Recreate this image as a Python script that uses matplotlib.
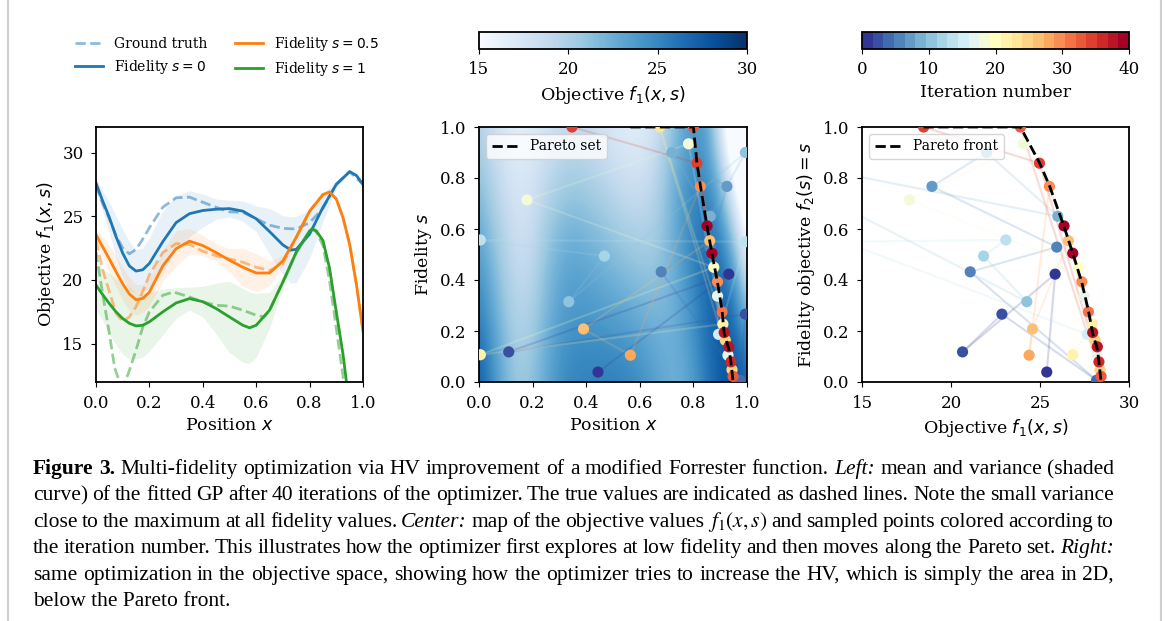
import matplotlib
matplotlib.use('Agg')
import matplotlib.pyplot as plt
import numpy as np
from matplotlib.colors import Normalize
from matplotlib.lines import Line2D
from matplotlib.collections import LineCollection
import matplotlib.cm as cm

plt.rcParams['font.family'] = 'serif'
plt.rcParams['font.serif'] = ['DejaVu Serif']
plt.rcParams['mathtext.fontset'] = 'dejavusans'
plt.rcParams['font.size'] = 12
plt.rcParams['axes.labelsize'] = 12.5
plt.rcParams['axes.linewidth'] = 1.3
plt.rcParams['xtick.major.pad'] = 5.5
plt.rcParams['ytick.major.pad'] = 5.5

# ---------------- left panel: GP mean, band half-width and ground truth ----------------
x_s0 = [0.0, 0.025, 0.05, 0.075, 0.1, 0.125, 0.15, 0.175, 0.2, 0.25, 0.3, 0.35, 0.4, 0.45,
        0.5, 0.55, 0.6, 0.65, 0.7, 0.73, 0.75, 0.8, 0.85, 0.9, 0.95, 0.975, 1.0]
mean_s0 = [27.6, 26.2, 24.9, 23.4, 22.1, 21.1, 20.7, 20.8, 21.3, 23.0, 24.5, 25.2, 25.45, 25.55,
           25.6, 25.4, 24.8, 23.8, 22.75, 22.35, 22.4, 23.6, 25.7, 27.5, 28.5, 28.2, 27.5]
band_s0 = [0.4, 0.8, 1.2, 1.6, 1.9, 1.9, 1.7, 1.7, 2.0, 2.4, 2.1, 1.8, 1.3, 0.8,
           0.65, 0.8, 1.0, 1.8, 2.3, 2.6, 2.6, 1.9, 1.1, 0.3, 0.1, 0.1, 0.1]
xt_s0 = [0.0, 0.025, 0.05, 0.075, 0.1, 0.125, 0.15, 0.175, 0.2, 0.25, 0.3, 0.35, 0.4, 0.45,
         0.5, 0.55, 0.6, 0.65, 0.7, 0.75, 0.8, 0.85, 0.9, 0.95, 1.0]
true_s0 = [27.4, 26.0, 24.8, 23.5, 22.5, 22.05, 22.4, 23.2, 24.1, 25.7, 26.45, 26.5, 26.1, 25.7,
           25.35, 25.3, 24.8, 24.3, 24.05, 24.0, 24.5, 25.6, 27.5, 28.5, 27.5]

x_s05 = [0.0, 0.025, 0.05, 0.075, 0.1, 0.125, 0.15, 0.175, 0.2, 0.25, 0.3, 0.35, 0.4, 0.45,
         0.5, 0.55, 0.6, 0.65, 0.7, 0.75, 0.8, 0.85, 0.875, 0.9, 0.925, 0.95, 0.975, 1.0]
mean_s05 = [23.55, 22.6, 21.65, 20.65, 19.7, 18.9, 18.45, 18.55, 19.05, 21.1, 22.45, 23.05, 22.7, 22.15,
            21.55, 21.0, 20.55, 20.55, 21.5, 23.35, 25.4, 26.7, 26.9, 26.35, 24.9, 22.8, 19.7, 16.0]
band_s05 = [0.5, 0.8, 1.1, 1.2, 1.3, 1.3, 1.2, 1.1, 1.1, 1.2, 1.4, 1.0, 0.8, 0.7,
            0.9, 1.5, 1.5, 1.0, 0.4, 0.2, 0.15, 0.15, 0.15, 0.15, 0.15, 0.15, 0.15, 0.15]
true_s05 = [23.1, 20.8, 19.1, 17.4, 16.75, 17.1, 17.9, 19.1, 20.4, 22.15, 22.85, 22.8, 22.25, 21.9,
            21.65, 21.4, 21.0, 20.75, 21.3, 23.35, 25.4, 26.7, 26.9, 26.35, 24.9, 22.8, 19.7, 16.0]

x_s1 = [0.0, 0.025, 0.05, 0.075, 0.1, 0.125, 0.15, 0.175, 0.2, 0.25, 0.3, 0.35, 0.4, 0.45,
        0.5, 0.55, 0.575, 0.6, 0.65, 0.7, 0.75, 0.8, 0.81, 0.825, 0.85, 0.875, 0.9, 0.925, 0.95]
mean_s1 = [19.6, 18.85, 18.15, 17.5, 16.98, 16.6, 16.4, 16.45, 16.72, 17.5, 18.2, 18.54, 18.3, 17.76,
           17.1, 16.45, 16.25, 16.45, 17.63, 19.84, 22.18, 23.85, 24.0, 23.85, 23.1, 20.9, 17.5, 14.2, 10.0]
band_s1 = [2.0, 2.0, 2.4, 2.6, 2.8, 2.8, 2.6, 2.5, 2.3, 1.8, 1.2, 0.9, 1.2, 2.0,
           2.8, 2.9, 2.8, 2.5, 1.4, 0.5, 0.3, 0.2, 0.2, 0.2, 0.2, 0.2, 0.2, 0.2, 0.2]
xt_s1 = [0.0, 0.025, 0.05, 0.07, 0.09, 0.1, 0.12, 0.15, 0.175, 0.2, 0.25, 0.29, 0.35, 0.4, 0.45,
         0.5, 0.55, 0.6, 0.63, 0.65, 0.7, 0.75, 0.8, 0.81, 0.825, 0.85, 0.875, 0.9, 0.925, 0.95]
true_s1 = [22.2, 18.9, 15.8, 13.1, 11.9, 11.7, 12.6, 14.5, 16.3, 17.5, 18.8, 19.06, 18.67, 18.28, 18.02,
           17.95, 17.63, 17.24, 17.1, 17.63, 19.84, 22.18, 23.85, 24.0, 23.8, 22.7, 19.9, 16.2, 12.5, 8.0]

# ---------------- center panel: objective map f1(x, s) ----------------
map_x = [0.0, 0.05, 0.1, 0.15, 0.2, 0.25, 0.3, 0.35, 0.4, 0.45, 0.5,
         0.55, 0.6, 0.65, 0.7, 0.75, 0.8, 0.85, 0.9, 0.95, 1.0]
map_s = [0.0, 0.25, 0.5, 0.75, 1.0]
map_f_s000 = [27.6, 24.9, 22.1, 20.7, 21.3, 23.0, 24.5, 25.2, 25.45, 25.55, 25.6,
              25.4, 24.8, 23.8, 22.75, 22.4, 23.6, 25.7, 27.5, 28.5, 27.5]
map_f_s025 = [25.6, 23.3, 20.9, 19.6, 20.2, 22.0, 23.5, 24.1, 24.1, 23.9, 23.6,
              23.2, 22.7, 22.2, 22.1, 22.9, 24.5, 26.5, 27.7, 26.8, 22.5]
map_f_s050 = [23.55, 21.65, 19.7, 18.45, 19.05, 21.1, 22.45, 23.05, 22.7, 22.15, 21.55,
              21.0, 20.55, 20.55, 21.5, 23.35, 25.4, 26.7, 26.35, 22.8, 16.0]
map_f_s075 = [21.6, 19.9, 18.3, 17.4, 17.9, 19.3, 20.3, 20.8, 20.5, 20.0, 19.3,
              18.7, 18.5, 19.3, 21.3, 23.4, 25.0, 25.3, 22.5, 16.5, 11.0]
map_f_s100 = [19.6, 18.15, 16.98, 16.4, 16.72, 17.5, 18.2, 18.54, 18.3, 17.76, 17.1,
              16.45, 16.45, 17.63, 19.84, 22.18, 23.85, 23.1, 17.5, 10.0, 6.0]

# sampled points in iteration order 0..40
pt_x = [0.444, 0.932, 0.111, 0.994, 0.975, 0.680, 0.862, 0.925, 0.720, 0.863, 0.994,
        0.335, 0.468, 0.005, 0.994, 0.894, 0.890, 0.929, 0.782, 0.179, 0.876,
        0.005, 0.910, 0.674, 0.944, 0.919, 0.861, 0.390, 0.565, 0.826, 0.890,
        0.907, 0.948, 0.800, 0.347, 0.813, 0.940, 0.915, 0.932, 0.869, 0.851]
pt_s = [0.039, 0.423, 0.118, 0.266, 0.007, 0.432, 0.529, 0.767, 0.900, 0.650, 0.900,
        0.315, 0.494, 0.557, 0.550, 0.187, 0.337, 0.105, 0.934, 0.714, 0.450,
        0.107, 0.227, 1.000, 0.048, 0.164, 0.554, 0.208, 0.105, 0.767, 0.393,
        0.275, 0.022, 1.000, 1.000, 0.858, 0.079, 0.194, 0.138, 0.505, 0.612]
pt_f1 = [25.38, 25.85, 20.65, 22.86, 28.18, 21.08, 25.94, 18.93, 22.0, 26.0, 8.0,
         24.26, 21.83, 23.08, 14.0, 27.66, 27.48, 28.22, 24.07, 17.67, 27.16,
         26.84, 27.96, np.nan, 28.37, 28.10, 26.60, 24.58, 24.39, 25.53, 27.35,
         27.72, 28.43, 23.90, 18.46, 24.97, 28.31, 27.96, 28.22, 26.84, 26.35]

pareto_x = [0.565, 0.800, 0.813, 0.826, 0.851, 0.869, 0.890, 0.907, 0.915, 0.932, 0.940, 0.948]
pareto_s = [1.0, 1.0, 0.86, 0.77, 0.61, 0.505, 0.39, 0.28, 0.19, 0.13, 0.08, 0.0]
pareto_f1 = [18.46, 23.9, 24.97, 25.53, 26.35, 26.84, 27.35, 27.72, 27.96, 28.22, 28.31, 28.43]

W, H = 1167, 621
fig = plt.figure(figsize=(W / 100, H / 100), dpi=100)


def fig_rect(x0, y0, x1, y1):
    return [x0 / W, 1 - y1 / H, (x1 - x0) / W, (y1 - y0) / H]


ax1 = fig.add_axes(fig_rect(96, 127, 363, 382))
ax2 = fig.add_axes(fig_rect(479, 127, 747, 382))
ax3 = fig.add_axes(fig_rect(862, 127, 1129, 382))
cax2 = fig.add_axes(fig_rect(479, 32, 747, 49))
cax3 = fig.add_axes(fig_rect(862, 32, 1129, 49))

# ---- left ----
curves = [(x_s0, mean_s0, band_s0, xt_s0, true_s0, 'tab:blue'),
          (x_s05, mean_s05, band_s05, x_s05, true_s05, 'tab:orange'),
          (x_s1, mean_s1, band_s1, xt_s1, true_s1, 'tab:green')]
for xm, m, b, xt, t, c in curves:
    m = np.array(m)
    b = np.array(b)
    ax1.fill_between(xm, m - b, m + b, color=c, alpha=0.1, lw=0)
for xm, m, b, xt, t, c in curves:
    ax1.plot(xt, t, '--', color=c, alpha=0.5, lw=2)
for xm, m, b, xt, t, c in curves:
    ax1.plot(xm, m, '-', color=c, lw=2)
ax1.set_xlim(0, 1)
ax1.set_ylim(12, 32)
ax1.set_xticks([0, 0.2, 0.4, 0.6, 0.8, 1.0])
ax1.set_yticks([15, 20, 25, 30])
ax1.set_xlabel('Position $x$')
ax1.set_ylabel('Objective $f_1(x, s)$')
handles = [Line2D([], [], color='tab:blue', alpha=0.5, ls='--', lw=2),
           Line2D([], [], color='tab:blue', lw=2),
           Line2D([], [], color='tab:orange', lw=2),
           Line2D([], [], color='tab:green', lw=2)]
labels = ['Ground truth', 'Fidelity $s = 0$', 'Fidelity $s = 0.5$', 'Fidelity $s = 1$']
ax1.legend(handles, labels, ncol=2, loc='lower center', bbox_to_anchor=(0.49, 1.17),
           frameon=False, fontsize=10, columnspacing=2.0, handlelength=2.0, borderaxespad=0)

# ---- center ----
it_cmap = plt.get_cmap('RdYlBu_r', 25)
it_norm = Normalize(0, 40)
iters = np.arange(len(pt_x))
pt_colors = it_cmap(it_norm(iters))

grid = np.array([map_f_s000, map_f_s025, map_f_s050, map_f_s075, map_f_s100])
dx = (map_x[1] - map_x[0]) / 2
ds = (map_s[1] - map_s[0]) / 2
ax2.imshow(grid, cmap='Blues', vmin=15, vmax=30, origin='lower', aspect='auto',
           interpolation='bicubic',
           extent=[map_x[0] - dx, map_x[-1] + dx, map_s[0] - ds, map_s[-1] + ds])
segs = [[(pt_x[i], pt_s[i]), (pt_x[i + 1], pt_s[i + 1])] for i in range(len(pt_x) - 1)]
ax2.add_collection(LineCollection(segs, colors=pt_colors[:-1], alpha=0.2, lw=1.5, zorder=2))
ax2.scatter(pt_x, pt_s, c=pt_colors, s=65, lw=0, zorder=3)
ax2.plot(pareto_x, pareto_s, '--', color='black', lw=2, zorder=4, label='Pareto set')
ax2.set_xlim(0, 1)
ax2.set_ylim(0, 1)
ax2.set_xticks([0, 0.2, 0.4, 0.6, 0.8, 1.0])
ax2.set_yticks([0, 0.2, 0.4, 0.6, 0.8, 1.0])
ax2.set_xlabel('Position $x$')
ax2.set_ylabel('Fidelity $s$')
ax2.legend(loc='upper left', fontsize=10)

# ---- right ----
segs = []
seg_colors = []
for i in range(len(pt_f1) - 1):
    if np.isnan(pt_f1[i]) or np.isnan(pt_f1[i + 1]):
        continue
    segs.append([(pt_f1[i], pt_s[i]), (pt_f1[i + 1], pt_s[i + 1])])
    seg_colors.append(pt_colors[i])
ax3.add_collection(LineCollection(segs, colors=seg_colors, alpha=0.2, lw=1.5, zorder=2))
ax3.scatter(pt_f1, pt_s, c=pt_colors, s=65, lw=0, zorder=3)
ax3.plot(pareto_f1, pareto_s, '--', color='black', lw=2, zorder=4, label='Pareto front')
ax3.set_xlim(15, 30)
ax3.set_ylim(0, 1)
ax3.set_xticks([15, 20, 25, 30])
ax3.set_yticks([0, 0.2, 0.4, 0.6, 0.8, 1.0])
ax3.set_xlabel('Objective $f_1(x, s)$')
ax3.set_ylabel('Fidelity objective $f_2(s) = s$')
ax3.legend(loc='upper left', fontsize=10)

# ---- colorbars ----
cb2 = fig.colorbar(cm.ScalarMappable(norm=Normalize(15, 30), cmap='Blues'), cax=cax2,
                   orientation='horizontal')
cb2.set_ticks([15, 20, 25, 30])
cb2.set_label('Objective $f_1(x, s)$')
cb3 = fig.colorbar(cm.ScalarMappable(norm=it_norm, cmap=it_cmap), cax=cax3,
                   orientation='horizontal')
cb3.set_ticks([0, 10, 20, 30, 40])
cb3.set_label('Iteration number')

# ---- page borders ----
for xb in (8, 1161):
    fig.add_artist(Line2D([xb / W, xb / W], [0, 1], transform=fig.transFigure,
                          color='#cfcfcf', lw=1.5))

# ---- caption ----
caption = [
    ([('Figure 3.', 'b'), ('Multi-fidelity optimization via HV improvement of a modified Forrester function.', 'n'),
      ('Left:', 'i'), ('mean and variance (shaded', 'n')], True),
    ([('curve) of the fitted GP after 40 iterations of the optimizer. The true values are indicated as dashed lines. '
       'Note the small variance', 'n')], True),
    ([('close to the maximum at all fidelity values.', 'n'), ('Center:', 'i'), ('map of the objective values', 'n'),
      ('$f_1(x,s)$', 'm'), ('and sampled points colored according to', 'n')], True),
    ([('the iteration number. This illustrates how the optimizer first explores at low fidelity and then moves '
       'along the Pareto set.', 'n'), ('Right:', 'i')], True),
    ([('same optimization in the objective space, showing how the optimizer tries to increase the HV, '
       'which is simply the area in 2D,', 'n')], True),
]
cap_size = 15.5
cap_left, cap_right = 33, 1114
renderer = fig.canvas.get_renderer()
for row, (pieces, justify) in enumerate(caption):
    y = 1 - (474 + row * 26.4) / H
    words = []
    for text, style in pieces:
        toks = [text] if style == 'm' else text.split(' ')
        for tok in toks:
            kw = dict(fontsize=cap_size, family='Liberation Serif', va='baseline')
            if style == 'b':
                kw['weight'] = 'bold'
            if style == 'i':
                kw['style'] = 'italic'
            if style == 'm':
                kw['math_fontfamily'] = 'stix'
            words.append(fig.text(0, y, tok, **kw))
    widths = [t.get_window_extent(renderer).width for t in words]
    gap = (cap_right - cap_left - sum(widths)) / (len(words) - 1)
    xpos = cap_left
    for t, w in zip(words, widths):
        t.set_x(xpos / W)
        xpos += w + gap
fig.text(cap_left / W, 1 - (474 + 5 * 26.4) / H, 'below the Pareto front.',
         fontsize=cap_size, family='Liberation Serif', va='baseline')

fig.savefig('out.png', dpi=100)
